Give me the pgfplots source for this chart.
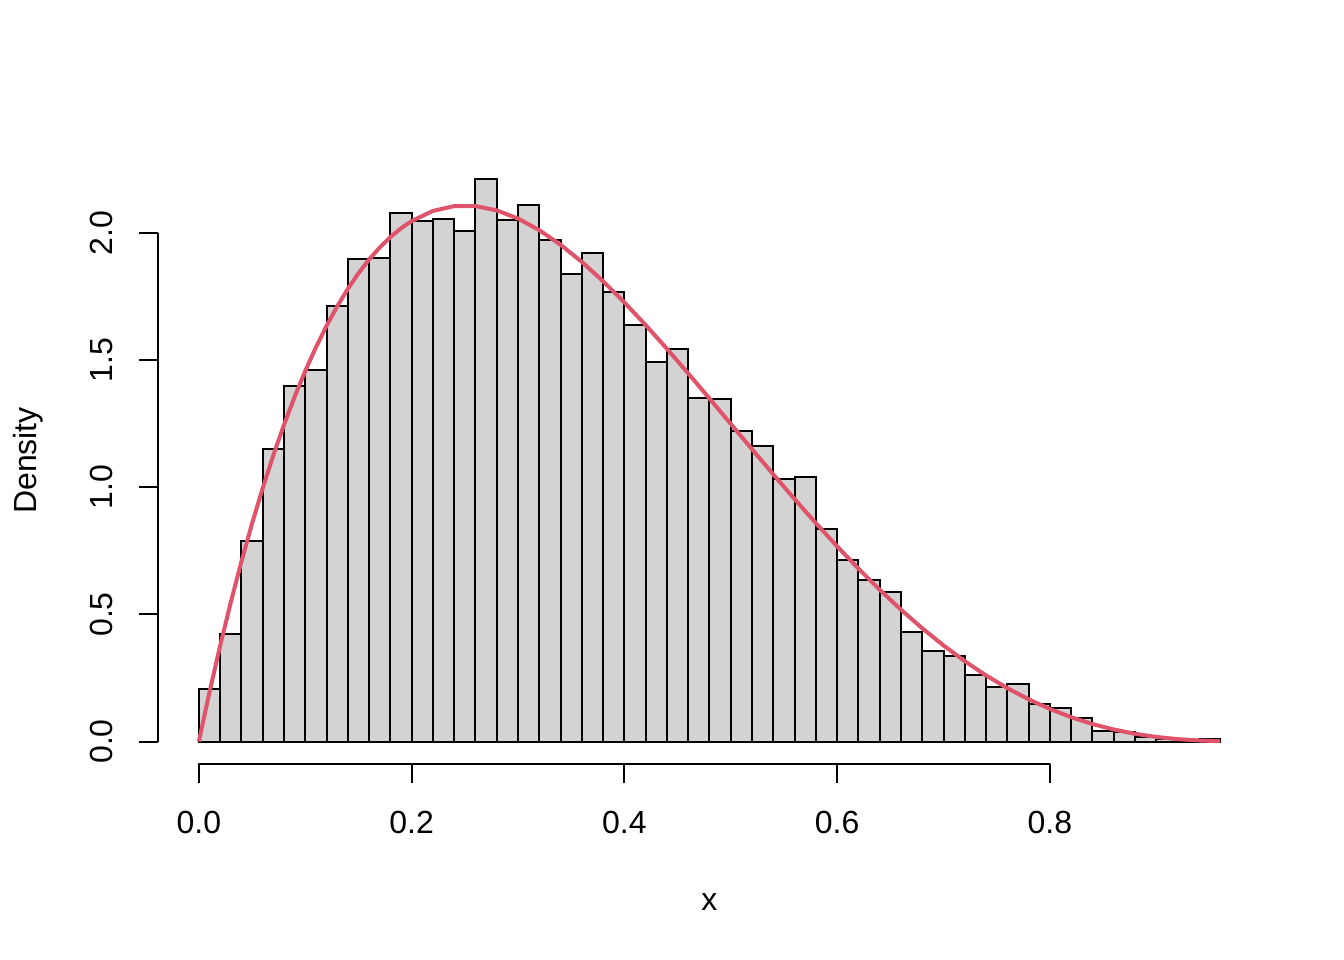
\documentclass[border=0pt]{standalone}
\usepackage{pgfplots}
\pgfplotsset{compat=1.18}
\usepackage{fontspec}
\setmainfont{Liberation Sans}
\definecolor{rred}{HTML}{DF536B}
\definecolor{rgray}{HTML}{D3D3D3}
\begin{document}
\fontsize{12bp}{14bp}\selectfont
\begin{tikzpicture}
\useasboundingbox (-59.25bp,-73.5bp) rectangle (444.75bp,286.5bp);
\begin{axis}[at={(0,0)}, anchor=south west, scale only axis,
  width=413.6bp, height=227.6bp,
  xmin=-0.0384, xmax=0.9984, ymin=-0.0885, ymax=2.3,
  clip=false,
  axis line style={draw=none},
  xtick pos=left, ytick pos=left,
  tick align=outside, major tick length=7.3bp,
  tick style={line width=0.75bp, black},
  xtick={0,0.2,0.4,0.6,0.8}, ytick={0,0.5,1,1.5,2},
  /pgf/number format/assume math mode=true,
  /pgf/number format/fixed, /pgf/number format/fixed zerofill,
  /pgf/number format/precision=1,
  xticklabel style={anchor=north, inner sep=0pt},
  xticklabel shift=10.3bp,
  yticklabel style={rotate=90, anchor=base, inner sep=0pt},
  yticklabel shift=9.6bp,
  xlabel={x}, ylabel={Density},
  xlabel style={at={(axis description cs:0.5,-0.2421)}, anchor=base, inner sep=0pt},
  ylabel style={at={(axis description cs:-0.1106,0.5)}, anchor=base, inner sep=0pt},
]
\addplot[ybar interval, fill=rgray, draw=black, line width=0.75bp] coordinates {
(0.00,0.206) (0.02,0.423) (0.04,0.789) (0.06,1.152) (0.08,1.399) (0.10,1.462)
(0.12,1.714) (0.14,1.899) (0.16,1.904) (0.18,2.081) (0.20,2.047) (0.22,2.057)
(0.24,2.009) (0.26,2.212) (0.28,2.051) (0.30,2.111) (0.32,1.974) (0.34,1.840)
(0.36,1.923) (0.38,1.770) (0.40,1.640) (0.42,1.494) (0.44,1.545) (0.46,1.352)
(0.48,1.348) (0.50,1.223) (0.52,1.164) (0.54,1.034) (0.56,1.039) (0.58,0.835)
(0.60,0.715) (0.62,0.636) (0.64,0.589) (0.66,0.429) (0.68,0.358) (0.70,0.337)
(0.72,0.262) (0.74,0.213) (0.76,0.228) (0.78,0.146) (0.80,0.130) (0.82,0.094)
(0.84,0.042) (0.86,0.039) (0.88,0.016) (0.90,0.008) (0.92,0.005) (0.94,0.009)
(0.96,0)
};
\addplot[rred, line width=1.5bp] coordinates {
(0.00,0) (0.01,0.19406) (0.02,0.37648) (0.03,0.54760) (0.04,0.70779) (0.05,0.85738)
(0.06,0.99670) (0.07,1.12610) (0.08,1.24590) (0.09,1.35643) (0.10,1.458) (0.11,1.55093)
(0.12,1.63553) (0.13,1.71211) (0.14,1.78096) (0.15,1.84238) (0.16,1.89665) (0.17,1.94408)
(0.18,1.98492) (0.19,2.01948) (0.20,2.048) (0.22,2.08803) (0.24,2.10708) (0.26,2.10716)
(0.28,2.09019) (0.30,2.058) (0.32,2.01236) (0.34,1.95497) (0.36,1.88744) (0.38,1.81129)
(0.40,1.728) (0.42,1.63894) (0.44,1.54542) (0.46,1.44867) (0.48,1.34984) (0.50,1.25)
(0.52,1.15016) (0.54,1.05123) (0.56,0.95406) (0.58,0.85942) (0.60,0.768) (0.62,0.68041)
(0.64,0.59720) (0.66,0.51881) (0.68,0.44564) (0.70,0.378) (0.72,0.31611) (0.74,0.26012)
(0.76,0.21012) (0.78,0.16611) (0.80,0.128) (0.82,0.09564) (0.84,0.06881) (0.86,0.04720)
(0.88,0.03041) (0.90,0.018) (0.92,0.00942) (0.94,0.00406) (0.96,0.00123)
};
\draw[line width=0.75bp, line cap=round] (axis cs:0,-0.0885) -- (axis cs:0.8,-0.0885);
\draw[line width=0.75bp, line cap=round] (axis cs:-0.0384,0) -- (axis cs:-0.0384,2);
\end{axis}
\end{tikzpicture}
\end{document}
